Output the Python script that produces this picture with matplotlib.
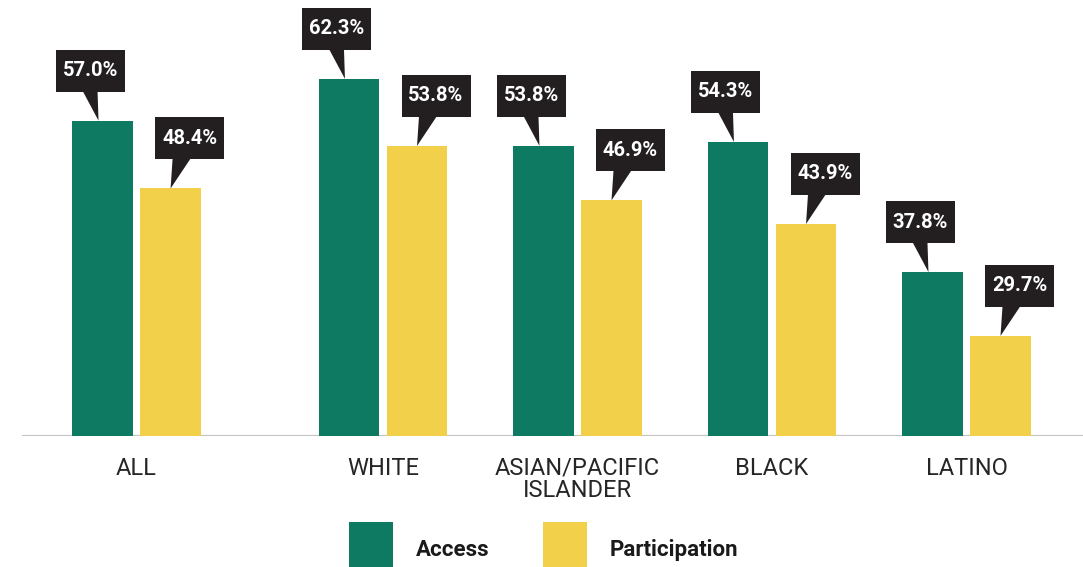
import matplotlib
matplotlib.use("Agg")
import matplotlib.pyplot as plt
from matplotlib.patches import Rectangle, Polygon
from matplotlib.transforms import IdentityTransform

categories = ["ALL", "WHITE", "ASIAN/PACIFIC\nISLANDER", "BLACK", "LATINO"]
access = [57.0, 62.3, 53.8, 54.3, 37.8]
participation = [48.4, 53.8, 46.9, 43.9, 29.7]
series_names = ["Access", "Participation"]

GREEN = "#0e7a62"
YELLOW = "#f3d04a"
BOXC = "#231f20"

plt.rcParams['font.family'] = ['Roboto', 'DejaVu Sans']

W, H = 1083, 567
fig = plt.figure(figsize=(W / 100, H / 100), dpi=100)
ax = fig.add_axes([22 / W, (H - 436) / H, (W - 22) / W, 436 / H])

positions = [0, 1.267, 2.267, 3.267, 4.267]
off = 0.175
bw = 0.313
ymin = 17.0
ymax = ymin + 436 / 7.883

xa = [p - off for p in positions]
xp = [p + off for p in positions]
ba = ax.bar(xa, [v - ymin for v in access], bottom=ymin, width=bw, color=GREEN, label=series_names[0], zorder=3)
bp = ax.bar(xp, [v - ymin for v in participation], bottom=ymin, width=bw, color=YELLOW, label=series_names[1], zorder=3)

ax.set_xlim(-0.589, 4.866)
ax.set_ylim(ymin, ymax)
ax.axhline(ymin, color="#c4c4c4", lw=1.6, zorder=2)
for s in ax.spines.values():
    s.set_visible(False)
ax.set_yticks([])
ax.set_xticks(positions)
ax.set_xticklabels(categories, fontsize=17, color="#262626", linespacing=0.98)
ax.tick_params(axis="x", length=0, pad=15)
ax.set_facecolor("none")

ident = IdentityTransform()
fig.canvas.draw()


def callout(x, v, kind):
    cx, cy = ax.transData.transform((x, v))
    if kind == "a":
        tipx = cx - 4
        bcx = cx - 12
        base = (tipx - 16, tipx - 1)
    else:
        tipx = cx
        bcx = cx + 19
        base = (tipx + 2, tipx + 20)
    bw_, bh_ = 69, 42
    bottom = cy + 29
    fig.add_artist(Rectangle((bcx - bw_ / 2, bottom), bw_, bh_, transform=ident,
                             facecolor=BOXC, edgecolor="none", zorder=5))
    fig.add_artist(Polygon([(base[0], bottom + 1), (base[1], bottom + 1), (tipx, cy)],
                           closed=True, transform=ident, facecolor=BOXC,
                           edgecolor="none", zorder=5))
    fig.text(bcx, bottom + bh_ / 2, f"{v:.1f}%", transform=ident, ha="center",
             va="center", color="white", fontsize=14.5, fontweight="bold", zorder=6)


for x, v in zip(xa, access):
    callout(x, v, "a")
for x, v in zip(xp, participation):
    callout(x, v, "p")

fig.legend(handles=[ba, bp], labels=series_names, loc="upper left",
           bbox_to_anchor=(349 / W, 1 - 522 / H), ncol=2, frameon=False,
           prop={"size": 16, "weight": "bold"}, handlelength=2.0, handleheight=3.4,
           handletextpad=1.0, columnspacing=2.4, borderpad=0, borderaxespad=0,
           labelcolor="#1a1a1a")

fig.savefig("out.png", dpi=100)
